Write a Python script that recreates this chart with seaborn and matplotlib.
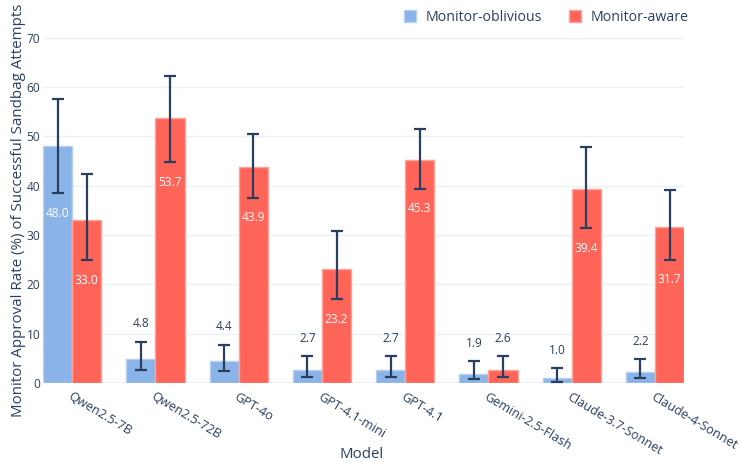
import matplotlib
matplotlib.use("Agg")
import matplotlib.pyplot as plt
from matplotlib.lines import Line2D
import numpy as np
import pandas as pd
import seaborn as sns

models = ["Qwen2.5-7B", "Qwen2.5-72B", "GPT-4o", "GPT-4.1-mini", "GPT-4.1",
          "Gemini-2.5-Flash", "Claude-3.7-Sonnet", "Claude-4-Sonnet"]
conditions = ["Monitor-oblivious", "Monitor-aware"]

oblivious = [48.0, 4.8, 4.4, 2.7, 2.7, 1.9, 1.0, 2.2]
oblivious_lo = [38.5, 2.7, 2.5, 1.3, 1.3, 0.8, 0.3, 1.0]
oblivious_hi = [57.7, 8.4, 7.8, 5.4, 5.4, 4.4, 3.0, 4.9]

aware = [33.0, 53.7, 43.9, 23.2, 45.3, 2.6, 39.4, 31.7]
aware_lo = [24.9, 44.8, 37.6, 17.0, 39.4, 1.2, 31.4, 25.0]
aware_hi = [42.4, 62.3, 50.5, 30.9, 51.5, 5.5, 47.9, 39.1]

colors = {"Monitor-oblivious": "#8AB4E8", "Monitor-aware": "#FF6459"}
edge_colors = {"Monitor-oblivious": "#B5D0F1", "Monitor-aware": "#FFA39B"}
text_color = "#2a3f5f"
grid_color = "#EBF0F8"

df = pd.DataFrame({
    "Model": models * 2,
    "Condition": [conditions[0]] * len(models) + [conditions[1]] * len(models),
    "Rate": oblivious + aware,
})

sns.set_theme(style="white")
plt.rcParams["font.family"] = ["Open Sans", "DejaVu Sans"]

fig = plt.figure(figsize=(7.42, 4.62), dpi=100)
ax = fig.add_axes([0.058, 0.171, 0.864, 0.747])

sns.barplot(data=df, x="Model", y="Rate", hue="Condition", order=models,
            hue_order=conditions, palette=colors, width=0.7, gap=0,
            saturation=1, errorbar=None, legend=False, ax=ax, zorder=2)

values = {conditions[0]: (oblivious, oblivious_lo, oblivious_hi),
          conditions[1]: (aware, aware_lo, aware_hi)}

for cond, container in zip(conditions, ax.containers):
    vals, lo, hi = values[cond]
    for patch in container:
        patch.set_edgecolor(edge_colors[cond])
        patch.set_linewidth(1.0)
    centers = [p.get_x() + p.get_width() / 2 for p in container]
    vals_a = np.array(vals)
    yerr = [vals_a - np.array(lo), np.array(hi) - vals_a]
    ax.errorbar(centers, vals_a, yerr=yerr, fmt="none", ecolor=text_color,
                elinewidth=1.6, capsize=4, capthick=1.6, zorder=3)
    for xc, v, l, h in zip(centers, vals, lo, hi):
        if v > 15:
            ax.text(xc, l - 4.1, f"{v:.1f}", ha="center", va="center",
                    color="white", fontsize=8.6, zorder=4)
        else:
            ax.text(xc, h + 3.6, f"{v:.1f}", ha="center", va="center",
                    color=text_color, fontsize=8.6, zorder=4)

ax.set_xlim(-0.35, len(models) - 1 + 0.35)
ax.set_ylim(0, 70)
ax.set_yticks(np.arange(0, 71, 10))
ax.grid(axis="y", color=grid_color, linewidth=1, zorder=0)
ax.axhline(0, color=grid_color, linewidth=2.2, zorder=1)
for s in ax.spines.values():
    s.set_visible(False)

ax.tick_params(axis="y", length=0, pad=2, labelsize=8.6, labelcolor=text_color)
ax.tick_params(axis="x", length=0, pad=5, labelsize=9.1, labelcolor=text_color)
ax.set_xticks(range(len(models)))
ax.set_xticklabels(models, rotation=-31, ha="left", rotation_mode="anchor")

ax.set_xlabel("Model", fontsize=10.8, color=text_color)
ax.xaxis.set_label_coords(0.497, -0.186)
ax.set_ylabel("Monitor Approval Rate (%) of Successful Sandbag Attempts",
              fontsize=10.9, color=text_color)
ax.yaxis.set_label_coords(-0.026, 0.5)

handles = [Line2D([], [], marker="s", linestyle="none", markersize=8,
                  markerfacecolor=colors[c], markeredgecolor=edge_colors[c])
           for c in conditions]
fig.legend(handles, conditions, loc="center right", bbox_to_anchor=(0.945, 0.962),
           ncol=2, frameon=False, fontsize=10.2, labelcolor=text_color,
           handletextpad=0.6, columnspacing=1.8, handlelength=1.0)

fig.savefig("out.png", dpi=100)
